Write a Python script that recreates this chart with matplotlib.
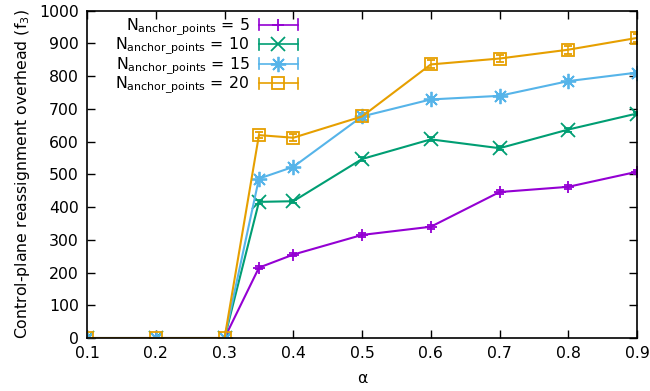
import numpy as np
import matplotlib
matplotlib.use("Agg")
import matplotlib.pyplot as plt
from matplotlib.lines import Line2D
from matplotlib.legend_handler import HandlerLine2D

alpha = [0.1, 0.2, 0.3, 0.35, 0.4, 0.5, 0.6, 0.7, 0.8, 0.9]
f3_n5 = [0, 0, 0, 215, 255, 315, 340, 446, 462, 508]
f3_n10 = [0, 0, 0, 416, 418, 547, 607, 580, 637, 686]
f3_n15 = [0, 0, 0, 487, 523, 677, 729, 740, 785, 811]
f3_n20 = [0, 0, 0, 620, 612, 677, 836, 854, 881, 917]
err_n5 = [0, 0, 0, 5, 5, 5, 6, 6, 6, 6]
err_n10 = [0, 0, 0, 5, 5, 6, 6, 6, 6, 6]
err_n15 = [0, 0, 0, 6, 6, 6, 6, 6, 6, 6]
err_n20 = [0, 0, 0, 10, 10, 10, 12, 12, 12, 12]
labels = [r"N$_\mathregular{anchor\_points}$ = 5",
          r"N$_\mathregular{anchor\_points}$ = 10",
          r"N$_\mathregular{anchor\_points}$ = 15",
          r"N$_\mathregular{anchor\_points}$ = 20"]

colors = ["#9400d3", "#009e73", "#56b4e9", "#e69f00"]
markers = ["+", "x", (8, 2, 0), "s"]
msizes = [9, 10, 11, 9]


# gnuplot-like key sample: horizontal line with end caps and marker in the middle
class HandlerCapLine(HandlerLine2D):
    def create_artists(self, legend, orig_handle, xdescent, ydescent,
                       width, height, fontsize, trans):
        arts = super().create_artists(legend, orig_handle, xdescent, ydescent,
                                      width, height, fontsize, trans)
        y = height / 2 - ydescent
        c = orig_handle.get_color()
        for x in (-xdescent, -xdescent + width):
            cap = Line2D([x, x], [y - 4, y + 4], color=c, lw=1.2, transform=trans)
            arts.append(cap)
        return arts


plt.rcParams["font.family"] = "DejaVu Sans"
plt.rcParams["mathtext.fontset"] = "dejavusans"

fig = plt.figure(figsize=(6.5, 3.91), dpi=100)
ax = fig.add_axes([0.134, 0.1355, 0.846, 0.837])

series = [(f3_n5, err_n5), (f3_n10, err_n10), (f3_n15, err_n15), (f3_n20, err_n20)]
handles = []
for (vals, err), c, m, ms, lab in zip(series, colors, markers, msizes, labels):
    ax.errorbar(alpha, vals, yerr=err, color=c, lw=1.5, marker=m, ms=ms,
                mfc="none", mew=1.3, capsize=3, elinewidth=1.1, capthick=1.1)
    handles.append(Line2D([], [], color=c, lw=1.2, marker=m, ms=ms,
                          mfc="none", mew=1.3, label=lab))

ax.set_xlim(0.1, 0.9)
ax.set_ylim(0, 1000)
ax.set_xticks(np.arange(0.1, 0.91, 0.1))
ax.set_xticklabels(["0.1", "0.2", "0.3", "0.4", "0.5", "0.6", "0.7", "0.8", "0.9"])
ax.set_yticks(np.arange(0, 1001, 100))
ax.tick_params(direction="in", top=True, right=True, length=6, labelsize=11.3,
               width=1, pad=6)
for s in ax.spines.values():
    s.set_linewidth(1.2)
ax.set_xlabel("α", fontsize=11.3, labelpad=7)
ax.set_ylabel(r"Control-plane reassignment overhead (f$_3$)", fontsize=11.3, labelpad=5)

leg = ax.legend(handles=handles, loc="upper right", bbox_to_anchor=(0.395, 1.0),
                frameon=False, markerfirst=False, fontsize=11.3, handlelength=2.5,
                handletextpad=0.6, labelspacing=-0.1, borderaxespad=0.0,
                handler_map={Line2D: HandlerCapLine()})

fig.savefig("out.png", dpi=100)
